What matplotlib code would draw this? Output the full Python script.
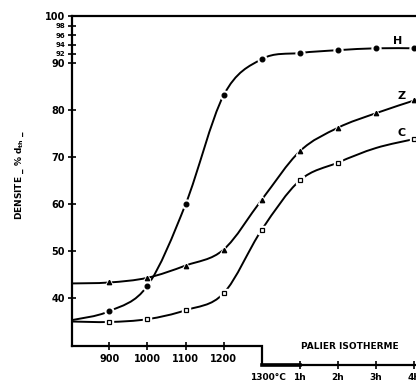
import matplotlib
matplotlib.use('Agg')

import matplotlib.pyplot as plt
import numpy as np
from matplotlib.path import Path
from matplotlib.patches import PathPatch

# x positions: 900..1200 degC heating, then 1300 degC and isothermal hold
steps = ['900', '1000', '1100', '1200', '1300°C', '1h', '2h', '3h', '4h']
x_start = -0.98  # curves start on the y axis

# densities (% of theoretical)
start_h, start_z, start_c = 35.4, 43.2, 35.1
dens_h = [37.3, 42.7, 60.0, 83.2, 90.9, 92.2, 92.8, 93.2, 93.2]
dens_z = [43.4, 44.4, 47.0, 50.4, 61.0, 71.3, 76.3, 79.4, 82.1]
dens_c = [35.0, 35.6, 37.5, 41.1, 54.6, 65.1, 68.9, 72.0, 73.9]
marks_c = [0, 1, 2, 3, 4, 5, 6, 8]  # no marker drawn at 3h on C

yticks_major = [40, 50, 60, 70, 80, 90, 100]
yticks_minor = [92, 94, 96, 98]

BOLD = dict(fontweight='bold', family='DejaVu Sans')


def smooth_path(xs, ys):
    """Catmull-Rom through the points, as cubic bezier segments"""
    pts = np.column_stack([xs, ys]).astype(float)
    verts = [pts[0]]
    codes = [Path.MOVETO]
    n = len(pts)
    for i in range(n - 1):
        p0 = pts[i - 1] if i > 0 else pts[i]
        p1, p2 = pts[i], pts[i + 1]
        p3 = pts[i + 2] if i + 2 < n else pts[i + 1]
        verts += [p1 + (p2 - p0) / 6, p2 - (p3 - p1) / 6, p2]
        codes += [Path.CURVE4] * 3
    return Path(verts, codes)


fig = plt.figure(figsize=(4.16, 3.83), dpi=100)
ax = fig.add_axes([72 / 416, 0.0979, (417.9 - 72) / 416, 0.9574 - 0.0979])
ax.set_xlim(x_start, 8.1)
ax.set_ylim(30, 100)

xs = np.arange(len(steps))

curves = [
    (start_h, dens_h, list(range(len(steps))), 'o', 'k', 3.4),
    (start_z, dens_z, list(range(len(steps))), '^', 'k', 3.2),
    (start_c, dens_c, marks_c, 's', 'white', 3.0),
]
for start, dens, marks, mk, fc, ms in curves:
    path = smooth_path(np.r_[x_start, xs], np.r_[start, dens])
    ax.add_patch(PathPatch(path, fill=False, lw=1.4, ec='k', zorder=2))
    mx = xs[marks]
    my = np.array(dens)[marks]
    # white halo leaves the small gap seen around each marker
    ax.plot(mx, my, mk, ms=ms + 3, color='white', mec='white', zorder=3)
    ax.plot(mx, my, mk, ms=ms, mfc=fc, mec='k', mew=0.9, zorder=4)

# curve names
ax.text(7.58, 94.8, 'H', fontsize=8, ha='center', va='center', **BOLD)
ax.text(7.67, 83.05, 'Z', fontsize=8, ha='center', va='center', **BOLD)
ax.text(7.67, 75.1, 'C', fontsize=8, ha='center', va='center', **BOLD)

# axes frame
for side in ['right', 'bottom']:
    ax.spines[side].set_visible(False)
for side in ['left', 'top']:
    ax.spines[side].set_linewidth(1.6)

ax.set_yticks(yticks_major)
ax.set_yticklabels([str(v) for v in yticks_major], fontsize=7, **BOLD)
ax.set_yticks(yticks_minor, minor=True)
ax.set_yticklabels([str(v) for v in yticks_minor], minor=True,
                   fontsize=5, **BOLD)
ax.tick_params(axis='y', which='both', direction='inout', length=6,
               width=1.2, pad=2)

ax.set_xticks(xs[:4])
ax.set_xticklabels(steps[:4], fontsize=7, **BOLD)
ax.tick_params(axis='x', direction='inout', length=6, width=1.2, pad=3)

# stepped bottom line: heating ramp, then the isothermal hold
y_low = 25.85
ax.plot([x_start, 4, 4, 8.1], [30, 30, y_low, y_low], color='k', lw=1.6,
        clip_on=False, solid_joinstyle='miter')
ax.plot([4, 5], [y_low, y_low], color='k', lw=2.6, clip_on=False)
ax.plot(xs[5:], [y_low] * 4, '|', color='k', ms=6, mew=1.2, clip_on=False)
ax.text(4.17, 23.1, steps[4], fontsize=6.5, ha='center', va='center', **BOLD)
for x, lab in zip(xs[5:], steps[5:]):
    ax.text(x, 23.1, lab, fontsize=6.5, ha='center', va='center', **BOLD)
ax.text(6.3, 29.7, 'PALIER ISOTHERME', fontsize=6.5, ha='center',
        va='center', **BOLD)

fig.text(0.048, 0.543, 'DENSITE _ % d$_{\\mathbf{th}}$ _', rotation=90,
         fontsize=6.5, ha='center', va='center', **BOLD)

fig.savefig('out.png', dpi=100)
